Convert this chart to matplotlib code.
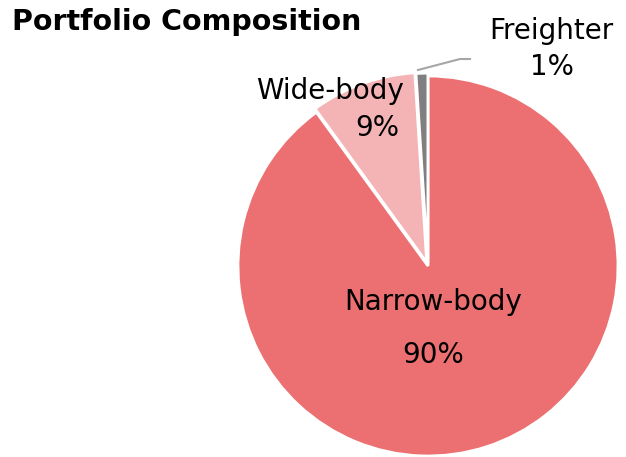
import matplotlib
matplotlib.use("Agg")
import matplotlib.pyplot as plt

categories = ["Narrow-body", "Wide-body", "Freighter"]
shares = [90, 9, 1]
colors = ["#EC7071", "#F4B4B5", "#7F7F7F"]

W, H = 626, 457
fig = plt.figure(figsize=(W / 100, H / 100), dpi=100)

# pie centre (428, 266) px, radius 190 px
cx, cy, r = 428, 266, 190
ax = fig.add_axes([(cx - r) / W, (H - cy - r) / H, 2 * r / W, 2 * r / H])
ax.pie(shares, colors=colors, startangle=90, counterclock=False,
       explode=[0, 0.02, 0.015], radius=1,
       wedgeprops=dict(edgecolor="white", linewidth=2))
ax.set_xlim(-1, 1)
ax.set_ylim(-1, 1)
ax.set_aspect("equal")
ax.axis("off")


def fx(x):
    return x / W


def fy(y):
    return 1 - y / H


lab = dict(fontsize=20, color="black", family="DejaVu Sans")
fig.text(fx(433), fy(302), categories[0], ha="center", va="center", **lab)
fig.text(fx(433), fy(355), f"{shares[0]}%", ha="center", va="center", **lab)
fig.text(fx(404), fy(91), categories[1], ha="right", va="center", **lab)
fig.text(fx(399), fy(128), f"{shares[1]}%", ha="right", va="center", **lab)
fig.text(fx(551), fy(31), categories[2], ha="center", va="center", **lab)
fig.text(fx(552), fy(67), f"{shares[2]}%", ha="center", va="center", **lab)

# leader line for the freighter label
fig.add_artist(plt.Line2D([fx(418), fx(460), fx(470)], [fy(70), fy(59), fy(59)],
                          color="#A6A6A6", linewidth=1.5))

fig.text(fx(12), fy(22), "Portfolio Composition", ha="left", va="center",
         fontsize=20.5, fontweight="bold", family="DejaVu Sans")

fig.savefig("out.png", dpi=100)
